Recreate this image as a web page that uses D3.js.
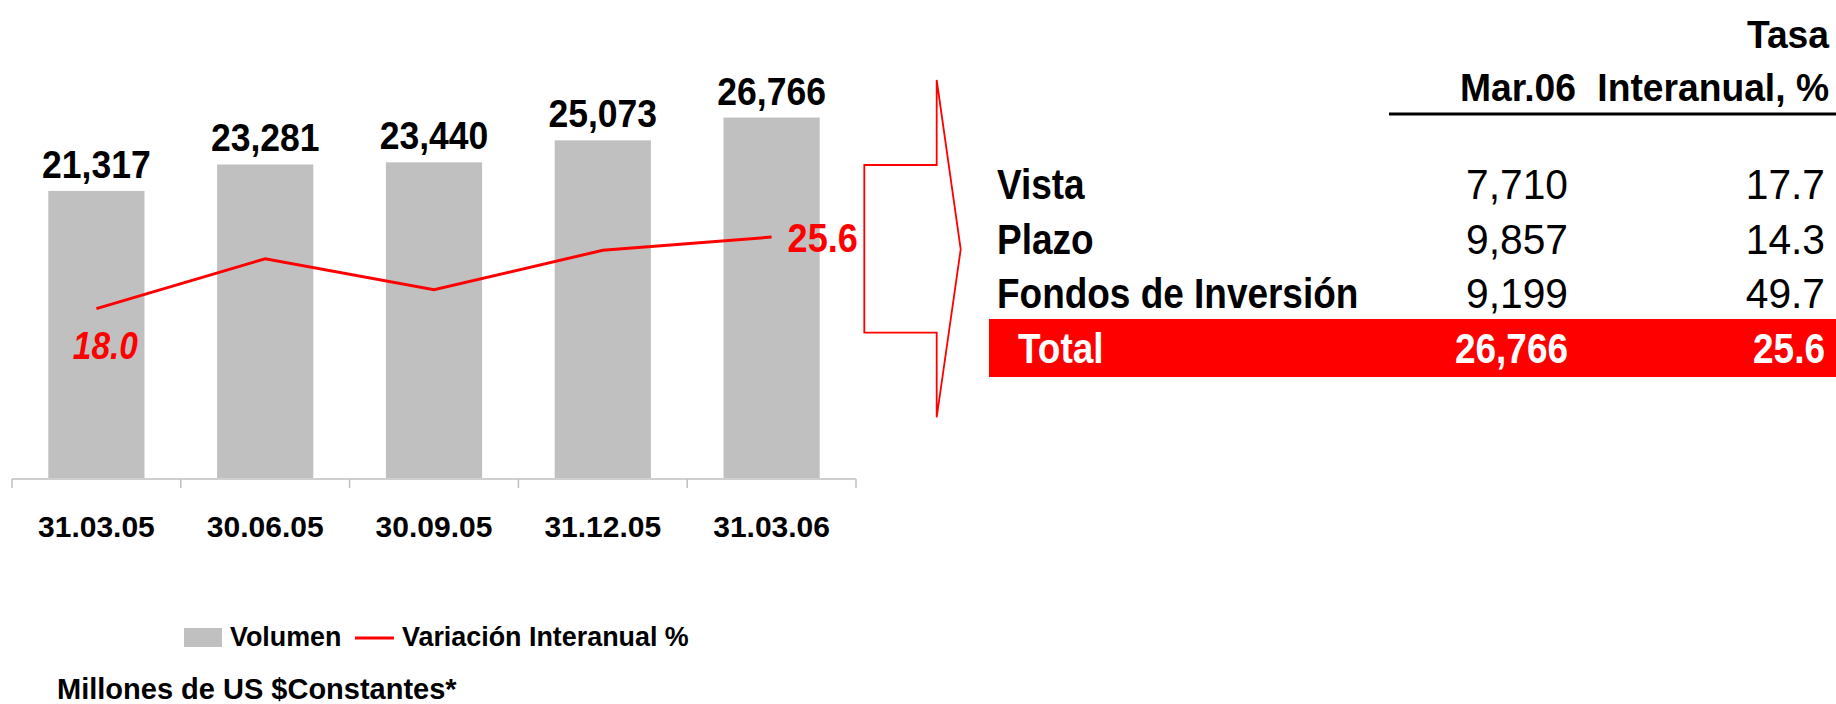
<!DOCTYPE html>
<html>
<head>
<meta charset="utf-8">
<script src="https://cdn.jsdelivr.net/npm/d3@7"></script>
<style>
  html, body { margin: 0; padding: 0; background: #fff; }
  text { font-family: "Liberation Sans", Arial, sans-serif; }
</style>
</head>
<body>
<script>
var categories = ['31.03.05', '30.06.05', '30.09.05', '31.12.05', '31.03.06'];
var volumen = [21317, 23281, 23440, 25073, 26766];
var variacion = [18.0, 23.3, 20.0, 24.2, 25.6];

var rowLabels = ['Vista', 'Plazo', 'Fondos de Inversión'];
var rowMar06 = [7710, 9857, 9199];
var rowTasa = [17.7, 14.3, 49.7];
var totalLabel = 'Total';
var totalMar06 = 26766;
var totalTasa = 25.6;

var RED = '#ff0000', GREY = '#c0c0c0';
var SX = 0.88; // bold text in the original is a little squeezed

var svg = d3.select('body').append('svg').attr('width', 1836).attr('height', 704);

// text helper: position through transform so the squeeze keeps the anchor
function label(g, x, y, s, size, o) {
	o = o || {};
	return g.append('text')
		.attr('transform', 'translate(' + x + ',' + y + ') scale(' + (o.sx || SX) + ',1)')
		.attr('text-anchor', o.anchor || 'start')
		.attr('font-size', size)
		.attr('font-weight', o.weight || 'bold')
		.attr('font-style', o.italic ? 'italic' : 'normal')
		.attr('fill', o.fill || '#000')
		.text(s);
}

var fmt = d3.format(',');
var fmt1 = d3.format('.1f');

// scales
var x = d3.scaleBand().domain(categories).range([12, 856]).paddingInner(0.43).paddingOuter(0.215);
var y = d3.scaleLinear().domain([0, 30000]).range([478, 74]);
var y2 = d3.scaleLinear().domain([0, 30]).range([478, 195.7]);
var cx = d => x(d) + x.bandwidth() / 2;

var chart = svg.append('g');

// bars
chart.selectAll('rect.bar')
	.data(volumen)
	.enter().append('rect')
		.attr('class', 'bar')
		.attr('x', (d, i) => x(categories[i]))
		.attr('y', d => y(d))
		.attr('width', x.bandwidth())
		.attr('height', d => y(0) - y(d))
		.attr('fill', GREY);

// value labels
volumen.forEach((d, i) => label(chart, cx(categories[i]), y(d) - 13, fmt(d), 38, {anchor: 'middle', sx: 0.935}));

// axis line and boundary ticks
var bounds = categories.map(d => cx(d) - x.step() / 2);
bounds.push(bounds[bounds.length - 1] + x.step());
chart.append('line')
	.attr('x1', x.range()[0]).attr('x2', x.range()[1])
	.attr('y1', y(0) + 1).attr('y2', y(0) + 1)
	.attr('stroke', '#bfbfbf').attr('stroke-width', 1.5);
chart.selectAll('line.tick')
	.data(bounds)
	.enter().append('line')
		.attr('class', 'tick')
		.attr('x1', d => d).attr('x2', d => d)
		.attr('y1', y(0) + 1).attr('y2', y(0) + 10)
		.attr('stroke', '#bfbfbf').attr('stroke-width', 1.5);

categories.forEach(d => label(chart, cx(d), 537, d, 30, {anchor: 'middle', sx: 1}));

// variation line
var line = d3.line().x((d, i) => cx(categories[i])).y(d => y2(d));
chart.append('path')
	.datum(variacion)
	.attr('d', line)
	.attr('fill', 'none')
	.attr('stroke', RED)
	.attr('stroke-width', 3);

var last = variacion.length - 1;
label(chart, cx(categories[0]) + 9, y2(variacion[0]) + 50, fmt1(variacion[0]), 38, {anchor: 'middle', italic: true, fill: RED});
label(chart, cx(categories[last]) + 16, y2(variacion[last]) + 15, fmt1(variacion[last]), 41, {fill: RED});

// legend
var leg = svg.append('g');
leg.append('rect').attr('x', 184).attr('y', 628).attr('width', 38).attr('height', 19).attr('fill', GREY);
label(leg, 230, 646, 'Volumen', 28, {sx: 0.96});
leg.append('line').attr('x1', 355).attr('x2', 394).attr('y1', 638).attr('y2', 638).attr('stroke', RED).attr('stroke-width', 3);
label(leg, 402, 646, 'Variación Interanual %', 28, {sx: 0.96});

label(svg, 57, 699, 'Millones de US $Constantes*', 29, {sx: 1});

// bracket + chevron
svg.append('path')
	.attr('d', 'M936.7,80 L936.7,165 L864.3,165 L864.3,332.7 L936.7,332.7 L936.7,417.3 L960.7,249.3 Z')
	.attr('fill', 'none')
	.attr('stroke', RED)
	.attr('stroke-width', 1.8)
	.attr('stroke-linejoin', 'miter');

// table
var tbl = svg.append('g');
var colLabel = 997, colMar = 1568, colTasa = 1825;
var rows = rowLabels.concat([totalLabel]);
var yRow = d3.scalePoint().domain(rows).range([199, 363]);

label(tbl, 1829, 48, 'Tasa', 38, {anchor: 'end', sx: 0.98});
label(tbl, 1576, 101, 'Mar.06', 38, {anchor: 'end', sx: 0.98});
label(tbl, 1829, 101, 'Interanual, %', 38, {anchor: 'end', sx: 0.98});
tbl.append('line').attr('x1', 1389).attr('x2', 1836).attr('y1', 114).attr('y2', 114)
	.attr('stroke', '#000').attr('stroke-width', 3);

tbl.append('rect')
	.attr('x', 989).attr('y', yRow(totalLabel) - 44)
	.attr('width', 1836 - 989).attr('height', 58)
	.attr('fill', RED);

rowLabels.forEach((d, i) => {
	label(tbl, colLabel, yRow(d), d, 42);
	label(tbl, colMar, yRow(d), fmt(rowMar06[i]), 42, {anchor: 'end', weight: 'normal', sx: 0.97});
	label(tbl, colTasa, yRow(d), fmt1(rowTasa[i]), 42, {anchor: 'end', weight: 'normal', sx: 0.97});
});
label(tbl, 1018, yRow(totalLabel), totalLabel, 42, {fill: '#fff'});
label(tbl, colMar, yRow(totalLabel), fmt(totalMar06), 42, {anchor: 'end', fill: '#fff'});
label(tbl, colTasa, yRow(totalLabel), fmt1(totalTasa), 42, {anchor: 'end', fill: '#fff'});
</script>
</body>
</html>
